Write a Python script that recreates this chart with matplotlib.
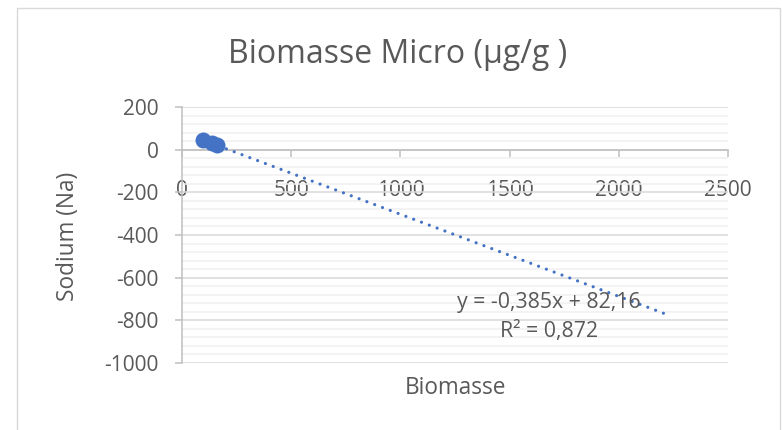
import matplotlib
matplotlib.use("Agg")
import matplotlib.pyplot as plt
from matplotlib.patches import Rectangle
from matplotlib.ticker import MultipleLocator
import numpy as np

plt.rcParams['font.family'] = ['Open Sans', 'DejaVu Sans']

# Measurements
biomasse = [96, 136, 158]
sodium = [47, 29, 24]

# Linear trendline (as reported in the label), extended forward
slope = -0.385
intercept = 82.16
r_squared = 0.872
trend_end = 2210

title = "Biomasse Micro (µg/g )"
x_label = "Biomasse"
y_label = "Sodium (Na)"
x_ticks = [0, 500, 1000, 1500, 2000, 2500]
y_ticks = [200, 0, -200, -400, -600, -800, -1000]

text_color = "#595959"
point_color = "#4472C4"
axis_color = "#bfbfbf"

W, H = 782, 430
fig = plt.figure(figsize=(W / 100, H / 100), dpi=100)

# Chart frame
fig.patches.append(Rectangle((17 / W, -0.05), (780 - 17) / W, 1.05 - 8 / H,
                             transform=fig.transFigure, fill=False,
                             edgecolor="#d9d9d9", linewidth=1.0))

ax = fig.add_axes([182 / W, 1 - 363 / H, (728 - 182) / W, (363 - 107) / H])
ax.set_xlim(0, 2500)
ax.set_ylim(-1000, 200)

# Grid
ax.yaxis.set_minor_locator(MultipleLocator(40))
ax.set_yticks(y_ticks)
ax.set_xticks(x_ticks)
ax.grid(True, axis='y', which='major', color="#d9d9d9", linewidth=1.1, zorder=0)
ax.grid(True, axis='y', which='minor', color="#f0f0f0", linewidth=1.1, zorder=0)
ax.set_axisbelow(True)

for s in ['top', 'right']:
    ax.spines[s].set_visible(False)
ax.spines['bottom'].set_position(('data', 0))
for s in ['bottom', 'left']:
    ax.spines[s].set_color(axis_color)
    ax.spines[s].set_linewidth(1.1)

ax.tick_params(axis='x', which='major', direction='out', length=5, width=1.1,
               color=axis_color, labelcolor=text_color, labelsize=15, pad=17)
ax.tick_params(axis='y', which='major', direction='out', length=5, width=1.1,
               color=axis_color, labelcolor=text_color, labelsize=15, pad=12)
ax.tick_params(axis='y', which='minor', length=0)
ax.set_xticklabels([str(v) for v in x_ticks])
ax.set_yticklabels([str(v) for v in y_ticks])

# Trendline
tx = np.array([min(biomasse), trend_end])
ty = slope * tx + intercept
ax.plot(tx, ty, color=point_color, linewidth=2.3,
        linestyle=(0, (0.01, 2.6)), dash_capstyle='round', zorder=3)

# Points
ax.plot(biomasse, sodium, 'o', color=point_color, markersize=11.5,
        markeredgewidth=0, zorder=4, clip_on=False)

# Trendline label
eq_text = f"y = {slope:.3f}x + {intercept:.2f}".replace('.', ',')
r2_text = f"R² = {r_squared:.3f}".replace('.', ',')
ax.text(1680, -742, eq_text, ha='center', va='baseline',
        fontsize=15.3, color=text_color, zorder=5)
ax.text(1682, -878, r2_text, ha='center', va='baseline',
        fontsize=15.3, color=text_color, zorder=5)

fig.text(397.5 / W, 1 - 62.7 / H, title, ha='center', va='baseline',
         fontsize=23, color=text_color)
fig.text(455.5 / W, 1 - 394 / H, x_label, ha='center', va='baseline',
         fontsize=16.3, color=text_color)
fig.text(68.5 / W, 1 - 236.5 / H, y_label, ha='center', va='center',
         fontsize=16.3, color=text_color, rotation=90)

fig.savefig("out.png", dpi=100)
